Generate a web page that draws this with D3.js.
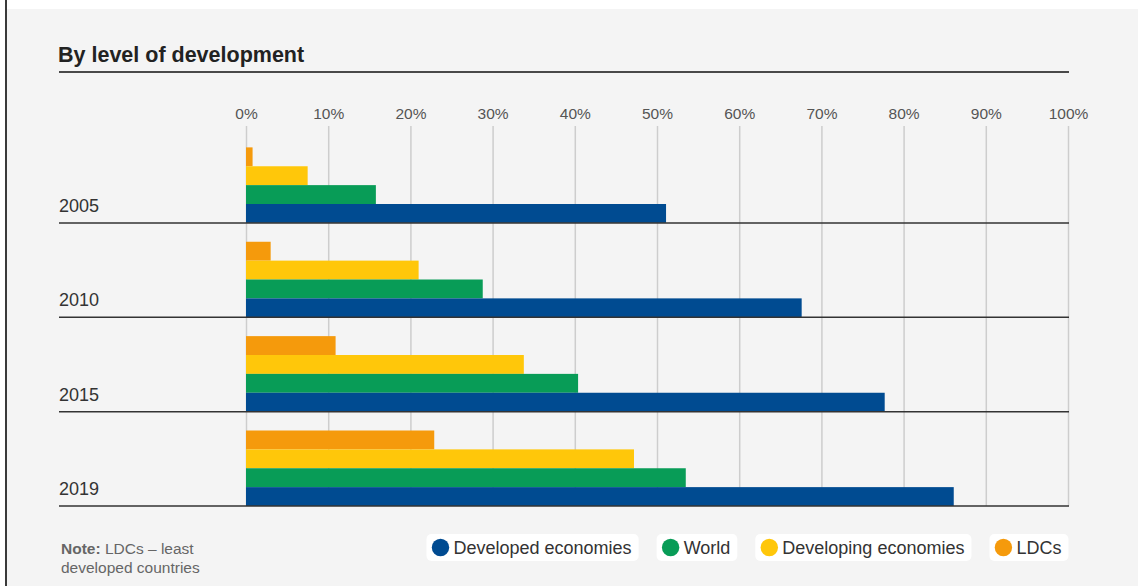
<!DOCTYPE html>
<html>
<head>
<meta charset="utf-8">
<script src="https://cdn.jsdelivr.net/npm/d3@7"></script>
<style>
  html, body { margin: 0; padding: 0; background: #fff; }
  svg { display: block; font-family: "Liberation Sans", Arial, Helvetica, sans-serif; }
</style>
</head>
<body>
<div id="chart"></div>
<script>
// data (percent)
var years = ["2005", "2010", "2015", "2019"];
var seriesNames = ["LDCs", "Developing economies", "World", "Developed economies"];
var ldcs = [0.8, 3.0, 10.9, 22.9];
var developing = [7.5, 21.0, 33.8, 47.2];
var world = [15.8, 28.8, 40.4, 53.5];
var developed = [51.1, 67.6, 77.7, 86.1];
var tickValues = [0, 10, 20, 30, 40, 50, 60, 70, 80, 90, 100];
var legendOrder = ["Developed economies", "World", "Developing economies", "LDCs"];

var colors = {
  "Developed economies": "#004b91",
  "World": "#089c57",
  "Developing economies": "#ffc70a",
  "LDCs": "#f59a0c"
};

var valuesBySeries = {
  "LDCs": ldcs,
  "Developing economies": developing,
  "World": world,
  "Developed economies": developed
};

var W = 1138, H = 586;

var svg = d3.select("#chart").append("svg")
  .attr("width", W)
  .attr("height", H);

// panel background + left border
svg.append("rect").attr("x", 0).attr("y", 0).attr("width", W).attr("height", H).attr("fill", "#fff");
svg.append("rect").attr("x", 7).attr("y", 9).attr("width", W - 7).attr("height", H - 9).attr("fill", "#f4f4f4");
svg.append("rect").attr("x", 5).attr("y", 0).attr("width", 2).attr("height", H).attr("fill", "#3a3a3a");

// title
svg.append("text")
  .attr("x", 58)
  .attr("y", 62)
  .attr("font-size", 21.5)
  .attr("font-weight", "bold")
  .attr("fill", "#222")
  .text("By level of development");

svg.append("line")
  .attr("x1", 59).attr("x2", 1069)
  .attr("y1", 72).attr("y2", 72)
  .attr("stroke", "#111")
  .attr("stroke-width", 1.5);

// scales
var x = d3.scaleLinear().domain([0, 100]).range([246, 1068]);

var y = d3.scaleBand()
  .domain(years)
  .range([128.5, 506])
  .padding(0);

var bw = y.bandwidth();
var inner = d3.scaleBand()
  .domain(seriesNames)
  .range([bw * 0.2, bw])
  .padding(0);

// axis with gridlines
var axisTopY = 126;
var axis = svg.append("g")
  .attr("class", "x-axis")
  .attr("transform", "translate(0," + axisTopY + ")")
  .call(d3.axisTop(x)
    .tickValues(tickValues)
    .tickFormat(function (d) { return d + "%"; })
    .tickSize(-(506 - axisTopY))
    .tickPadding(7));

axis.select(".domain").remove();
axis.selectAll(".tick line")
  .attr("stroke", "#cdcdcd")
  .attr("stroke-width", 1.5);
axis.selectAll(".tick text")
  .attr("font-size", 15.5)
  .attr("fill", "#555")
  .attr("font-family", "Liberation Sans, Arial, sans-serif");

// bars
var groups = svg.selectAll(".year")
  .data(years)
  .enter().append("g")
  .attr("class", "year")
  .attr("transform", function (d) { return "translate(0," + y(d) + ")"; });

groups.selectAll("rect")
  .data(function (d, i) {
    return seriesNames.map(function (s) {
      return { series: s, value: valuesBySeries[s][i] };
    });
  })
  .enter().append("rect")
  .attr("x", x(0))
  .attr("y", function (d) { return inner(d.series); })
  .attr("width", function (d) { return x(d.value) - x(0); })
  .attr("height", inner.bandwidth())
  .attr("fill", function (d) { return colors[d.series]; });

// separators and year labels
groups.append("line")
  .attr("x1", 59).attr("x2", 1069)
  .attr("y1", bw).attr("y2", bw)
  .attr("stroke", "#333")
  .attr("stroke-width", 1.5);

groups.append("text")
  .attr("x", 59)
  .attr("y", bw - 11)
  .attr("font-size", 18)
  .attr("fill", "#333")
  .text(function (d) { return d; });

// legend, laid out from the left
var legend = svg.append("g").attr("class", "legend");
var items = legend.selectAll("g")
  .data(legendOrder)
  .enter().append("g");

items.append("rect").attr("class", "bg");
items.append("circle")
  .attr("r", 8.7)
  .attr("cx", 14)
  .attr("cy", 13.5)
  .attr("fill", function (d) { return colors[d]; });
items.append("text")
  .attr("x", 27)
  .attr("y", 20)
  .attr("font-size", 18)
  .attr("fill", "#333")
  .text(function (d) { return d; });

var gap = 18;
var lx = 426.5;
items.each(function () {
  var g = d3.select(this);
  var w = 27 + g.select("text").node().getComputedTextLength() + 7;
  g.attr("transform", "translate(" + lx + ",534)");
  g.select("rect.bg")
    .attr("width", w)
    .attr("height", 27)
    .attr("rx", 5)
    .attr("fill", "#fff");
  lx += w + gap;
});

// note
var note = svg.append("text")
  .attr("x", 61)
  .attr("y", 554)
  .attr("font-size", 15.5)
  .attr("fill", "#666");
note.append("tspan").attr("font-weight", "bold").text("Note:");
note.append("tspan").text(" LDCs \u2013 least");
svg.append("text")
  .attr("x", 61)
  .attr("y", 573)
  .attr("font-size", 15.5)
  .attr("fill", "#666")
  .text("developed countries");
</script>
</body>
</html>
